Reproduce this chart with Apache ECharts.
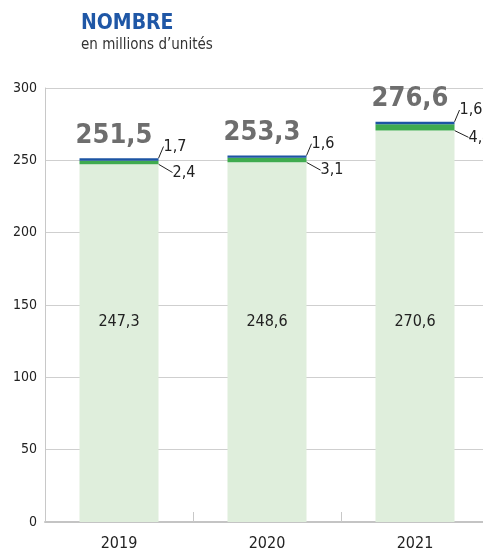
<!DOCTYPE html>
<html>
<head>
<meta charset="utf-8">
<script src="https://cdn.jsdelivr.net/npm/echarts@6/dist/echarts.min.js"></script>
<style>
html, body { margin: 0; padding: 0; background: #fff; }
#chart { width: 483px; height: 554px; }
</style>
</head>
<body>
<div id="chart"></div>
<script>
var years = ['2019', '2020', '2021']
var baseVals = [247.3, 248.6, 270.6]
var greenVals = [2.4, 3.1, 4.4]
var blueVals = [1.7, 1.6, 1.6]
var totals = [251.5, 253.3, 276.6]
var yTicks = [0, 50, 100, 150, 200, 250, 300]

var font = '"Liberation Sans Narrow", "DejaVu Sans Condensed", "Roboto", sans-serif'
function fr(v) { return String(v).replace('.', ',') }

var myChart = echarts.init(document.getElementById('chart'))
var option = {
  backgroundColor: '#fff',
  animation: false,
  textStyle: { fontFamily: font },
  title: {
    text: 'NOMBRE',
    subtext: 'en millions d\u2019unités',
    left: 76,
    top: 8,
    itemGap: 4,
    textStyle: { color: '#1f57a6', fontSize: 21, fontWeight: 'bold', fontFamily: font },
    subtextStyle: { color: '#333', fontSize: 15, fontFamily: font }
  },
  grid: { left: 45, right: -6, top: 88, bottom: 32, outerBoundsMode: 'none', containLabel: false },
  xAxis: {
    type: 'category',
    data: years,
    axisLine: { lineStyle: { color: '#c4c4c4', width: 2 } },
    axisTick: { show: true, inside: true, length: 10, lineStyle: { color: '#c8c8c8' } },
    axisLabel: { color: '#222', fontSize: 16, margin: 14, fontFamily: font }
  },
  yAxis: {
    type: 'value',
    min: yTicks[0],
    max: yTicks[yTicks.length - 1],
    interval: 50,
    axisLine: { show: true, lineStyle: { color: '#c8c8c8', width: 1 } },
    axisTick: { show: false },
    splitLine: { lineStyle: { color: '#cfcfcf' } },
    axisLabel: { color: '#222', fontSize: 14, margin: 8, fontFamily: font }
  },
  series: [
    {
      type: 'bar', stack: 'a', data: baseVals, barWidth: 79,
      itemStyle: { color: '#dfeedc' },
      label: {
        show: true, position: 'insideBottom', distance: 192,
        color: '#222', fontSize: 16, fontFamily: font,
        formatter: function (p) { return fr(p.value) }
      }
    },
    {
      type: 'bar', stack: 'a', data: greenVals, barWidth: 79,
      itemStyle: { color: '#3fab4f' },
      label: {
        show: true, position: 'right', distance: 5,
        color: '#222', fontSize: 16, fontFamily: font,
        formatter: function (p) { return fr(p.value) }
      },
      labelLayout: { dx: 9, dy: 10 },
      labelLine: { show: true, length2: 0, lineStyle: { color: '#222', width: 1 } }
    },
    {
      type: 'bar', stack: 'a', data: blueVals, barWidth: 79,
      itemStyle: { color: '#1d55a3' },
      label: {
        show: true, position: 'right', distance: 5,
        color: '#222', fontSize: 16, fontFamily: font,
        formatter: function (p) { return fr(p.value) }
      },
      labelLayout: { dx: 0, dy: -13 },
      labelLine: { show: true, length2: 0, lineStyle: { color: '#222', width: 1 } }
    },
    {
      type: 'bar', data: totals, barWidth: 79, barGap: '-100%',
      itemStyle: { color: 'rgba(0,0,0,0)' },
      z: 1,
      label: {
        show: true, position: 'top', distance: 9, offset: [-5, 0],
        color: '#6e6e6e', fontSize: 27, fontWeight: 'bold', fontFamily: font,
        formatter: function (p) { return fr(p.value) }
      }
    }
  ]
}
myChart.setOption(option)
</script>
</body>
</html>
